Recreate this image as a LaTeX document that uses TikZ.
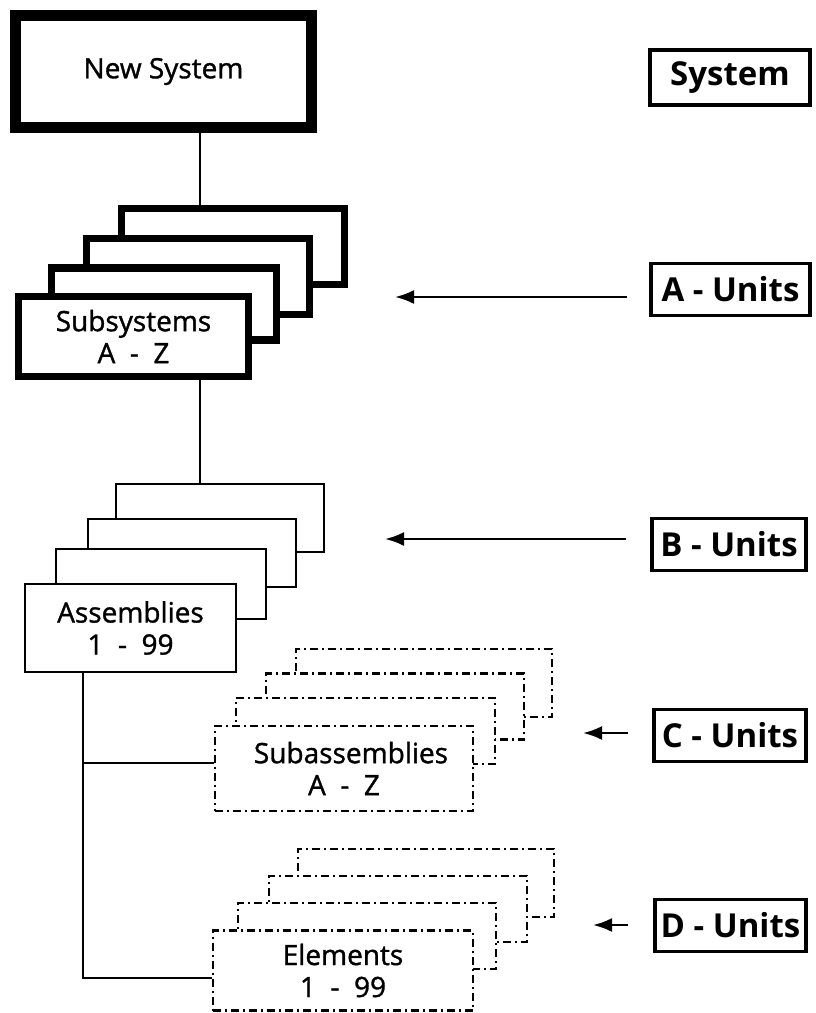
\documentclass[tikz,border=0pt]{standalone}
\usepackage{fontspec}
\setmainfont{Open Sans}
\IfFontExistsTF{Open Sans SemiBold}
  {\newfontfamily\boxfont{Open Sans SemiBold}}
  {\newfontfamily\boxfont{Open Sans}[FakeBold=1.2]}
\usetikzlibrary{arrows.meta}
\tikzset{
  base/.style={draw, fill=white, inner sep=0pt, align=center,
    font=\boxfont\fontsize{28}{32}\selectfont},
  sysbox/.style={base, line width=11pt},
  subbox/.style={base, line width=7.5pt},
  asmbox/.style={base, line width=2pt},
  dashbox/.style={base, line width=2.8pt, dash pattern={on 8pt off 4pt on 2pt off 4pt}},
  unitbox/.style={draw, line width=3.5pt, inner sep=0pt,
    font=\fontsize{33}{36}\selectfont\bfseries},
  conn/.style={line width=2pt},
  arr/.style={line width=2.5pt, -{Latex[length=19pt,width=14pt]}}
}
\begin{document}
\begin{tikzpicture}[x=1pt,y=-1pt]
\useasboundingbox (0,0) rectangle (815,1013);

% New System
\node[sysbox, minimum width=296pt, minimum height=112pt] (NS) at (163.5,71.5) {\raisebox{-4pt}{New System}};

% Subsystems stack
\node[subbox, minimum width=223pt, minimum height=76pt] (S4) at (233,246.5) {};
\node[subbox, minimum width=223pt, minimum height=76pt] (S3) at (198,276.5) {};
\node[subbox, minimum width=225pt, minimum height=72pt] (S2) at (164,304) {};
\node[subbox, minimum width=230pt, minimum height=80pt] (S1) at (133.5,336.5) {Subsystems\\A\ \ -\ \ Z};

% Assemblies stack
\node[asmbox, minimum width=208pt, minimum height=68pt] (A4) at (220,518) {};
\node[asmbox, minimum width=208pt, minimum height=68pt] (A3) at (192,553) {};
\node[asmbox, minimum width=210pt, minimum height=70pt] (A2) at (161,584) {};
\node[asmbox, minimum width=211pt, minimum height=88pt] (A1) at (130.5,628) {Assemblies\\1\ \ -\ \ 99};

% Subassemblies stack
\node[dashbox, minimum width=256pt, minimum height=68pt] (B4) at (424,683) {};
\node[dashbox, minimum width=258pt, minimum height=66pt] (B3) at (395,706.5) {};
\node[dashbox, minimum width=259pt, minimum height=66pt] (B2) at (365.5,731) {};
\node[dashbox, minimum width=258pt, minimum height=85pt] (B1) at (344,768.5) {\hspace*{14pt}Subassemblies\\A\ \ -\ \ Z};

% Elements stack
\node[dashbox, minimum width=256pt, minimum height=68pt] (E4) at (426,883) {};
\node[dashbox, minimum width=258pt, minimum height=66pt] (E3) at (398,909) {};
\node[dashbox, minimum width=258pt, minimum height=66pt] (E2) at (367,936) {};
\node[dashbox, minimum width=260pt, minimum height=80pt] (E1) at (343,970.5) {Elements\\1\ \ -\ \ 99};

% Unit labels
\node[unitbox, minimum width=160pt, minimum height=55pt] (LS) at (730,77.5) {System};
\node[unitbox, minimum width=159pt, minimum height=52pt] (LA) at (730.5,289.5) {A - Units};
\node[unitbox, minimum width=154pt, minimum height=52pt] (LB) at (729,544.5) {B - Units};
\node[unitbox, minimum width=152pt, minimum height=52pt] (LC) at (730,735.5) {C - Units};
\node[unitbox, minimum width=151pt, minimum height=52pt] (LD) at (730.5,925.5) {D - Units};

% connectors
\coordinate (c1) at (200,0);
\coordinate (c2) at (83,0);
\draw[conn] (c1 |- NS.south) -- (c1 |- S4.north);
\draw[conn] (c1 |- S1.south) -- (c1 |- A4.north);
\draw[conn] (c2 |- A1.south) |- ([yshift=-7pt]E1.west);
\draw[conn] (c2 |- B1.west) ++(0,-6) -- ([yshift=6pt]B1.west);

% arrows
\coordinate (aA) at (395,297);
\coordinate (aB) at (385,539);
\coordinate (aC) at (583,733);
\coordinate (aD) at (593,925);
\draw[arr, shorten <=22pt] (LA.west |- aA) -- (aA);
\draw[arr, shorten <=24pt] (LB.west |- aB) -- (aB);
\draw[arr, shorten <=24pt] (LC.west |- aC) -- (aC);
\draw[arr, shorten <=25pt] (LD.west |- aD) -- (aD);
\end{tikzpicture}
\end{document}
